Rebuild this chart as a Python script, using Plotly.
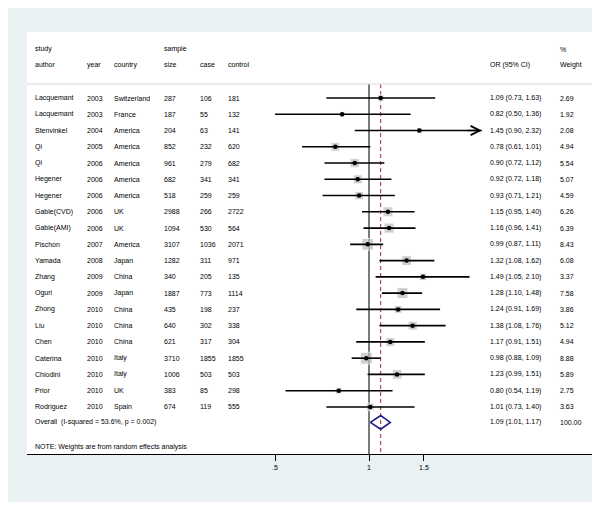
import math
import plotly.graph_objects as go

# study table
authors = ["Lacquemant", "Lacquemant", "Stenvinkel", "Qi", "Qi", "Hegener", "Hegener",
           "Gable(CVD)", "Gable(AMI)", "Pischon", "Yamada", "Zhang", "Oguri", "Zhong",
           "Liu", "Chen", "Caterina", "Chiodini", "Prior", "Rodriguez"]
years = [2003, 2003, 2004, 2005, 2006, 2006, 2006, 2006, 2006, 2007, 2008, 2009, 2009,
         2010, 2010, 2010, 2010, 2010, 2010, 2010]
countries = ["Switzerland", "France", "America", "America", "America", "America", "America",
             "UK", "UK", "America", "Japan", "China", "Japan", "China", "China", "China",
             "Italy", "Italy", "UK", "Spain"]
sizes = [287, 187, 204, 852, 961, 682, 518, 2988, 1094, 3107, 1282, 340, 1887, 435, 640,
         621, 3710, 1006, 383, 674]
cases = [106, 55, 63, 232, 279, 341, 259, 266, 530, 1036, 311, 205, 773, 198, 302, 317,
         1855, 503, 85, 119]
controls = [181, 132, 141, 620, 682, 341, 259, 2722, 564, 2071, 971, 135, 1114, 237, 338,
            304, 1855, 503, 298, 555]
or_est = [1.09, 0.82, 1.45, 0.78, 0.90, 0.92, 0.93, 1.15, 1.16, 0.99, 1.32, 1.49, 1.28,
          1.24, 1.38, 1.17, 0.98, 1.23, 0.80, 1.01]
ci_lo = [0.73, 0.50, 0.90, 0.61, 0.72, 0.72, 0.71, 0.95, 0.96, 0.87, 1.08, 1.05, 1.10,
         0.91, 1.08, 0.91, 0.88, 0.99, 0.54, 0.73]
ci_hi = [1.63, 1.36, 2.32, 1.01, 1.12, 1.18, 1.21, 1.40, 1.41, 1.11, 1.62, 2.10, 1.48,
         1.69, 1.76, 1.51, 1.09, 1.51, 1.19, 1.40]
weights = [2.69, 1.92, 2.08, 4.94, 5.54, 5.07, 4.59, 6.26, 6.39, 8.43, 6.08, 3.37, 7.58,
           3.86, 5.12, 4.94, 8.88, 5.89, 2.75, 3.63]
overall = [1.09, 1.01, 1.17]
overall_weight = "100.00"
overall_label = "Overall  (I-squared = 53.6%, p = 0.002)"
tick_vals = [0.5, 1, 1.5]
tick_text = [".5", "1", "1.5"]
x_clip = 2.3  # right end of the drawn scale

rows = list(range(len(authors)))
ov_row = 19.95

FONT = "Liberation Sans, Arial, sans-serif"
TXT = "#000000"

fig = go.Figure()

# null line and overall estimate line
fig.add_trace(go.Scatter(x=[1, 1], y=[-0.86, 21.9], mode="lines",
                         line=dict(color="#7a7a7a", width=2), hoverinfo="skip"))
fig.add_trace(go.Scatter(x=[overall[0]] * 2, y=[-0.86, 21.9], mode="lines",
                         line=dict(color="#a3283a", width=1, dash="4px,3px"), hoverinfo="skip"))

# weight squares
fig.add_trace(go.Scatter(x=or_est, y=rows, mode="markers",
                         marker=dict(symbol="square", color="#bdbdbd",
                                     size=[4.0 * math.sqrt(w) for w in weights]),
                         hoverinfo="skip"))

# confidence intervals
cx, cy = [], []
for lo, hi, r in zip(ci_lo, ci_hi, rows):
    cx += [lo, min(hi, x_clip), None]
    cy += [r, r, None]
fig.add_trace(go.Scatter(x=cx, y=cy, mode="lines", line=dict(color="black", width=1.6),
                         hoverinfo="skip"))

# point estimates
fig.add_trace(go.Scatter(x=or_est, y=rows, mode="markers",
                         marker=dict(symbol="circle", color="black", size=4.5),
                         hoverinfo="skip"))

# overall diamond
fig.add_trace(go.Scatter(x=[overall[1], overall[0], overall[2], overall[0], overall[1]],
                         y=[ov_row, ov_row - 0.42, ov_row, ov_row + 0.42, ov_row],
                         mode="lines", line=dict(color="#1c1c84", width=1.6),
                         hoverinfo="skip"))

ann = []


def txt(xp, y, s):
    ann.append(dict(x=xp, y=y, xref="paper", yref="y", text=s, showarrow=False,
                    xanchor="left", yanchor="middle", font=dict(family=FONT, size=7, color=TXT)))


col_x = [0.0105, 0.1025, 0.1495, 0.2375, 0.3015, 0.3505, 0.8115, 0.935]
heads_top = ["study", "", "", "sample", "", "", "", "%"]
heads_bot = ["author", "year", "country", "size", "case", "control", "OR (95% CI)", "Weight"]
for xp, a, b in zip(col_x, heads_top, heads_bot):
    if a:
        txt(xp, -3.0, a)
    txt(xp, -2.03, b)

for i, r in enumerate(rows):
    vals = [authors[i], str(years[i]), countries[i], str(sizes[i]), str(cases[i]),
            str(controls[i]), f"{or_est[i]:.2f} ({ci_lo[i]:.2f}, {ci_hi[i]:.2f})",
            f"{weights[i]:.2f}"]
    for xp, s in zip(col_x, vals):
        txt(xp, r, s)

txt(col_x[0], ov_row, overall_label)
txt(col_x[6], ov_row, f"{overall[0]:.2f} ({overall[1]:.2f}, {overall[2]:.2f})")
txt(col_x[7], ov_row, overall_weight)
txt(col_x[0], 21.45, "NOTE: Weights are from random effects analysis")

# arrow for truncated interval
for lo, hi, r in zip(ci_lo, ci_hi, rows):
    if hi > x_clip:
        ann.append(dict(x=math.log10(x_clip), y=r, xref="x", yref="y",
                        ax=math.log10(x_clip) - 0.05, ay=r, axref="x", ayref="y",
                        showarrow=True, arrowhead=5, arrowsize=1.4, arrowwidth=1.3,
                        arrowcolor="black", standoff=0, text=""))

# page body adds 8px, so the figure is drawn 8px smaller and shifted
shapes = [
    dict(type="rect", xref="paper", yref="paper", x0=-0.0335, x1=1.0053, y0=-0.1137, y1=1.057,
         fillcolor="#eaf1f3", line=dict(width=0), layer="below"),
    dict(type="rect", xref="paper", yref="paper", x0=0, x1=0.998, y0=0, y1=1,
         fillcolor="white", line=dict(width=0), layer="below"),
    dict(type="line", xref="paper", yref="y", x0=0, x1=0.998, y0=-0.86, y1=-0.86,
         line=dict(color="#d9d9d9", width=1)),
]

fig.update_layout(
    width=592, height=497,
    margin=dict(l=19, r=5, t=24, b=51, autoexpand=False),
    paper_bgcolor="white", plot_bgcolor="rgba(0,0,0,0)",
    showlegend=False,
    annotations=ann, shapes=shapes,
    xaxis=dict(type="log", range=[-1.0962, 0.7244], showgrid=False, zeroline=False,
               tickvals=tick_vals, ticktext=tick_text, ticks="outside", ticklen=6,
               tickwidth=1, tickcolor="black", showline=True, linecolor="black",
               linewidth=1.3, tickfont=dict(family=FONT, size=7, color=TXT)),
    yaxis=dict(range=[21.894, -4.059], visible=False, showgrid=False, zeroline=False),
)

fig.write_html("out.html")
